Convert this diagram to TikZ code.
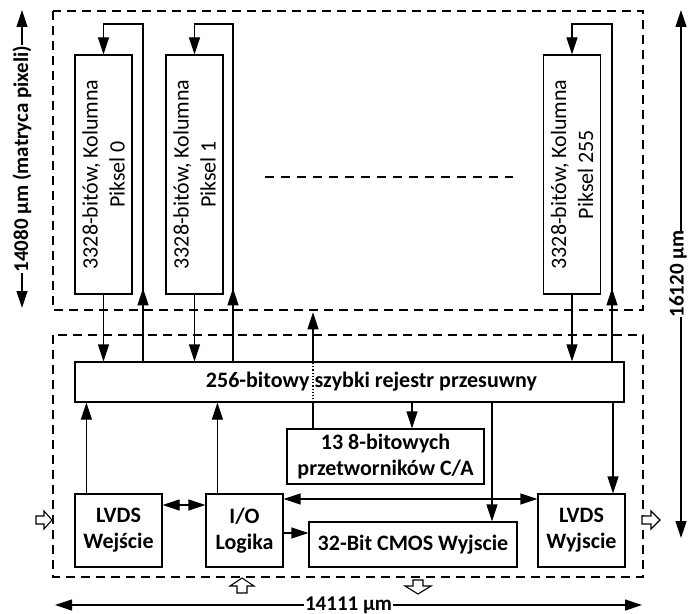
\documentclass[tikz,border=0pt]{standalone}
\usepackage{fontspec}
\setmainfont{Carlito}
\usetikzlibrary{arrows.meta}
\tikzset{
  box/.style={draw, line width=1.2bp, inner sep=0pt, align=center,
    font=\bfseries\fontsize{22bp}{26bp}\selectfont},
  coltext/.style={rotate=90, align=center, font=\fontsize{22bp}{27bp}\selectfont},
  dimtext/.style={fill=white, inner sep=1bp, font=\bfseries\fontsize{21bp}{24bp}\selectfont},
  frame/.style={line width=1.4bp, dash pattern=on 9bp off 6bp},
  arr/.style={line width=1.2bp, -{Triangle[length=17bp,width=11bp]}},
  darr/.style={line width=1.2bp, {Triangle[length=17bp,width=11bp]}-{Triangle[length=17bp,width=11bp]}},
  hollow/.style={draw, line width=1.1bp, fill=white},
}
\begin{document}
\begin{tikzpicture}[x=1bp,y=-1bp]
  \useasboundingbox (0,0) rectangle (688,614);
  % frames
  \draw[frame] (53,11) rectangle (643,310);
  \draw[frame] (53,335) rectangle (643,577);
  \draw[frame, dash pattern=on 9bp off 7bp] (265,177) -- (513,177);

  % pixel columns
  \foreach \nm/\xx/\lbl in {c0/103.5/0, c1/194.5/1, c255/572/255} {
    \node[box, minimum width=57bp, minimum height=239bp] (\nm) at (\xx,174.5) {};
    \node[coltext] at (\nm) {3328-bitów, Kolumna\\Piksel \lbl};
  }

  % blocks
  \node[box, minimum width=549bp, minimum height=40bp] (reg) at (349.5,382) {};
  \node[font=\bfseries\fontsize{22bp}{26bp}\selectfont] at ([xshift=22bp]reg) {256-bitowy szybki rejestr przesuwny};
  \node[box, minimum width=197bp, minimum height=55bp] (dac) at (385.5,456.5) {13 8-bitowych\\przetworników C/A};
  \node[box, minimum width=208bp, minimum height=45bp] (cmos) at (413,544.5) {32-Bit CMOS Wyjscie};
  \node[box, minimum width=87bp, minimum height=73bp] (lvdsin) at (118.5,530.5) {LVDS\\Wejście};
  \node[box, minimum width=77bp, minimum height=73bp] (io) at (244.5,530.5) {I/O\\Logika};
  \node[box, minimum width=87bp, minimum height=73bp] (lvdsout) at (581.5,530.5) {LVDS\\Wyjscie};

  % column <-> register
  \foreach \nm/\xr in {c0/143, c1/233, c255/612} {
    \coordinate (t\nm) at (\xr,24);
    \draw[arr] (reg.north -| t\nm) -- ++(0,-73);
    \draw[arr] (reg.north -| t\nm) -- (t\nm) -| (\nm.north);
    \draw[arr] (\nm.south) -- (\nm.south |- reg.north);
  }

  % register <-> blocks
  \coordinate (dacin) at ([xshift=26.5bp]dac.north);
  \coordinate (dacout) at ([xshift=-72.5bp]dac.north);
  \coordinate (cmosin) at ([xshift=79bp]cmos.north);
  \coordinate (outin) at ([xshift=31.5bp]lvdsout.north);
  \draw[arr] (reg.south -| dacin) -- (dacin);
  \draw[arr] (reg.south -| cmosin) -- (cmosin);
  \draw[arr] (reg.south -| outin) -- (outin);
  \draw[line width=1.2bp] (dacout) -- (dacout |- reg.south);
  \draw[line width=1.2bp, dotted] (dacout |- reg.south) -- (dacout |- reg.north);
  \draw[arr] (dacout |- reg.north) -- ++(0,-49);
  \draw[arr] ([xshift=12bp]lvdsin.north west) -- ([xshift=12bp]lvdsin.north west |- reg.south);
  \draw[arr] ([xshift=12bp]io.north west) -- ([xshift=12bp]io.north west |- reg.south);

  % io links
  \draw[darr] ([yshift=25.5bp]lvdsin.east) -- ([yshift=25.5bp]lvdsin.east -| io.west);
  \draw[darr] ([yshift=31.5bp]io.east) -- ([yshift=31.5bp]io.east -| lvdsout.west);
  \draw[arr] ([yshift=-2.5bp]io.east) -- ([yshift=-2.5bp]io.east -| cmos.west);

  % hollow arrows
  \draw[hollow] (36,516) -- (44,516) -- (44,511) -- (52,520) -- (44,529) -- (44,524) -- (36,524) -- cycle;
  \draw[hollow] (642,516) -- (651,516) -- (651,511) -- (660,520) -- (651,529) -- (651,524) -- (642,524) -- cycle;
  \draw[hollow] (242,578) -- (254,586) -- (247,586) -- (247,593) -- (237,593) -- (237,586) -- (230,586) -- cycle;
  \draw[hollow] (413,580) -- (423,580) -- (423,586) -- (431,586) -- (418,594) -- (405,586) -- (413,586) -- cycle;

  % dimensions
  \draw[darr] (22,10) -- (22,308) node[midway, rotate=90, dimtext] {14080 µm (matryca pixeli)};
  \draw[darr] (681,10) -- (681,538) node[midway, rotate=90, dimtext, inner sep=0pt, yshift=3bp] {16120 µm};
  \draw[darr] (55,605) -- (642,605) node[midway, dimtext] {14111 µm};
\end{tikzpicture}
\end{document}
